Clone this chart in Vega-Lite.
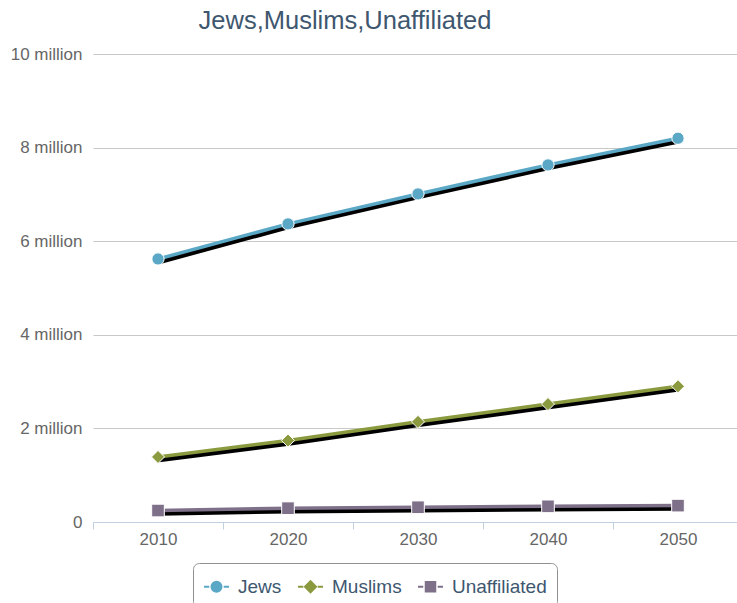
{
  "$schema": "https://vega.github.io/schema/vega-lite/v6.json",
  "autosize": "none",
  "width": 644,
  "height": 468,
  "padding": {"left": 93, "top": 54, "right": 0, "bottom": 81},
  "background": "white",
  "title": {
    "text": "Jews,Muslims,Unaffiliated",
    "font": "Liberation Sans",
    "fontSize": 25.5,
    "fontWeight": "normal",
    "color": "#3E576F",
    "anchor": "middle",
    "frame": "group",
    "dx": -70,
    "offset": 11
  },
  "data": {
    "values": [
      {"year": "2010", "series": "Jews", "value": 5620000},
      {"year": "2020", "series": "Jews", "value": 6370000},
      {"year": "2030", "series": "Jews", "value": 7010000},
      {"year": "2040", "series": "Jews", "value": 7630000},
      {"year": "2050", "series": "Jews", "value": 8200000},
      {"year": "2010", "series": "Muslims", "value": 1390000},
      {"year": "2020", "series": "Muslims", "value": 1740000},
      {"year": "2030", "series": "Muslims", "value": 2140000},
      {"year": "2040", "series": "Muslims", "value": 2520000},
      {"year": "2050", "series": "Muslims", "value": 2900000},
      {"year": "2010", "series": "Unaffiliated", "value": 245000},
      {"year": "2020", "series": "Unaffiliated", "value": 295000},
      {"year": "2030", "series": "Unaffiliated", "value": 315000},
      {"year": "2040", "series": "Unaffiliated", "value": 335000},
      {"year": "2050", "series": "Unaffiliated", "value": 350000}
    ]
  },
  "encoding": {
    "x": {
      "field": "year",
      "type": "nominal",
      "sort": null,
      "scale": {"range": [0, 650], "paddingInner": 0, "paddingOuter": 0},
      "axis": {
        "title": null,
        "labelAngle": 0,
        "tickBand": "extent",
        "grid": false,
        "domainColor": "#C0D0E0",
        "tickColor": "#C0D0E0",
        "tickSize": 7,
        "labelPadding": 2,
        "labelFont": "Liberation Sans",
        "labelFontSize": 17,
        "labelColor": "#666666"
      }
    },
    "y": {
      "field": "value",
      "type": "quantitative",
      "scale": {"domain": [0, 10000000], "nice": false},
      "axis": {
        "title": null,
        "values": [0, 2000000, 4000000, 6000000, 8000000, 10000000],
        "labelExpr": "datum.value == 0 ? '0' : (datum.value / 1000000) + ' million'",
        "domain": false,
        "ticks": false,
        "grid": true,
        "gridColor": "#C8C8C8",
        "labelPadding": 11,
        "labelFont": "Liberation Sans",
        "labelFontSize": 17,
        "labelColor": "#666666"
      }
    }
  },
  "layer": [
    {
      "mark": {"type": "line", "color": "black", "strokeWidth": 4.5, "yOffset": 3, "xOffset": 1},
      "encoding": {"detail": {"field": "series"}}
    },
    {
      "mark": {"type": "line", "strokeWidth": 3.5},
      "encoding": {
        "color": {
          "field": "series",
          "scale": {"domain": ["Jews", "Muslims", "Unaffiliated"], "range": ["#5AA8C5", "#8A9A3E", "#7E7089"]}
        }
      }
    },
    {
      "transform": [{"filter": "datum.series == 'Jews'"}],
      "mark": {"type": "point", "shape": "circle", "filled": true, "opacity": 1, "size": 150, "stroke": "white", "strokeWidth": 1},
      "encoding": {"color": {"field": "series"}}
    },
    {
      "transform": [{"filter": "datum.series == 'Muslims'"}],
      "mark": {"type": "point", "shape": "diamond", "filled": true, "opacity": 1, "size": 170, "stroke": "white", "strokeWidth": 1},
      "encoding": {"color": {"field": "series"}}
    },
    {
      "transform": [{"filter": "datum.series == 'Unaffiliated'"}],
      "mark": {"type": "point", "shape": "square", "filled": true, "opacity": 1, "size": 160, "stroke": "white", "strokeWidth": 1},
      "encoding": {"color": {"field": "series"}}
    },
    {
      "mark": {"type": "point", "filled": true, "size": 0},
      "encoding": {
        "color": {"field": "series"},
        "shape": {
          "field": "series",
          "scale": {
            "domain": ["Jews", "Muslims", "Unaffiliated"],
            "range": [
              "M-1,0H-0.58M0.58,0H1M-0.4,0A0.4,0.4 0 1,0 0.4,0A0.4,0.4 0 1,0 -0.4,0Z",
              "M-1,0H-0.58M0.58,0H1M0,-0.44L0.44,0L0,0.44L-0.44,0Z",
              "M-1,0H-0.58M0.58,0H1M-0.38,-0.38H0.38V0.38H-0.38Z"
            ]
          },
          "legend": {
            "encode": {
              "symbols": {
                "update": {
                  "opacity": {"value": 1},
                  "size": {"value": 625},
                  "fill": {"scale": "color", "field": "value"},
                  "stroke": {"scale": "color", "field": "value"},
                  "strokeWidth": {"value": 2}
                }
              }
            }
          }
        }
      }
    }
  ],
  "config": {
    "view": {"stroke": null},
    "legend": {
      "title": null,
      "orient": "none",
      "direction": "horizontal",
      "legendX": 100,
      "legendY": 509,
      "padding": 10,
      "strokeColor": "#909090",
      "cornerRadius": 6,
      "fillColor": "white",
      "columnPadding": 12,
      "labelFont": "Liberation Sans",
      "labelFontSize": 19,
      "labelColor": "#3E576F",
      "labelOffset": 8,
      "symbolSize": 625,
      "symbolStrokeWidth": 2,
      "symbolOpacity": 1
    }
  }
}
